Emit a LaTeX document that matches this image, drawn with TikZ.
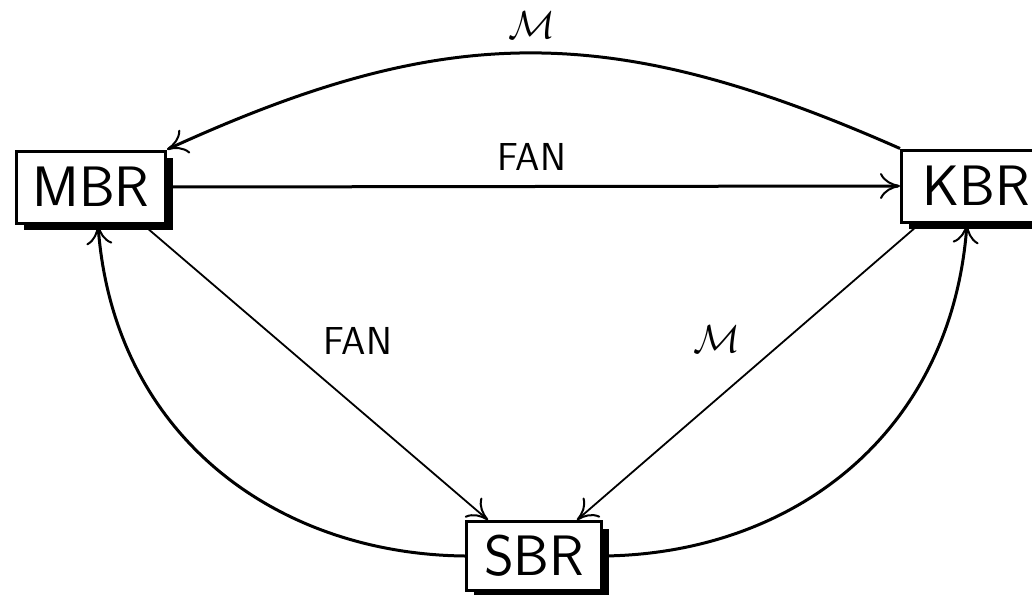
\RequirePackage{fix-cm}
\documentclass[tikz,border=0pt]{standalone}
\usetikzlibrary{arrows.meta,shadows}
\begin{document}
\begin{tikzpicture}[x=1pt,y=-1pt,
  box/.style={draw,line width=3pt,fill=white,inner sep=0pt,
    font=\sffamily\fontsize{57}{62}\selectfont,
    drop shadow={shadow xshift=7pt,shadow yshift=-7pt,fill=black,opacity=1}},
  lbl/.style={font=\sffamily\fontsize{39}{44}\selectfont,inner sep=0pt},
  mlbl/.style={font=\fontsize{39}{44}\selectfont,inner sep=0pt},
  arr/.style={-{Computer Modern Rightarrow[length=20pt,width=26pt,line width=2pt]}},
  thick3/.style={line width=3pt},
  thin2/.style={line width=1.8pt}]
\clip (0,0) rectangle (1032,594);
\node[box,minimum width=149pt,minimum height=72pt] (M) at (91,187) {MBR};
\node[box,minimum width=149pt,minimum height=72pt] (K) at (976,186) {KBR};
\node[box,minimum width=135pt,minimum height=69pt] (S) at (534,556) {SBR};

\draw[arr,thick3] (M.east) -- (K.west);
\draw[arr,thick3] (K.north west) .. controls +(-290,-128) and +(280,-128) .. (M.north east);
\draw[arr,thin2] ([xshift=52pt]M.south) -- ([xshift=-46pt]S.north);
\draw[arr,thin2] ([xshift=-56pt]K.south) -- ([xshift=43pt]S.north);
\draw[arr,thick3] (S.west) .. controls +(-190,-2) and +(15,210) .. ([xshift=7pt]M.south);
\draw[arr,thick3] (S.east) .. controls +(190,-2) and +(-15,210) .. ([xshift=-9pt]K.south);

\node[lbl] (l1) at (532,157) {FAN};
\node[mlbl] (l2) at (532,25) {$\mathcal{M}$};
\node[lbl] (l3) at (358,341) {FAN};
\node[mlbl] (l4) at (717,339) {$\mathcal{M}$};
\end{tikzpicture}
\end{document}
